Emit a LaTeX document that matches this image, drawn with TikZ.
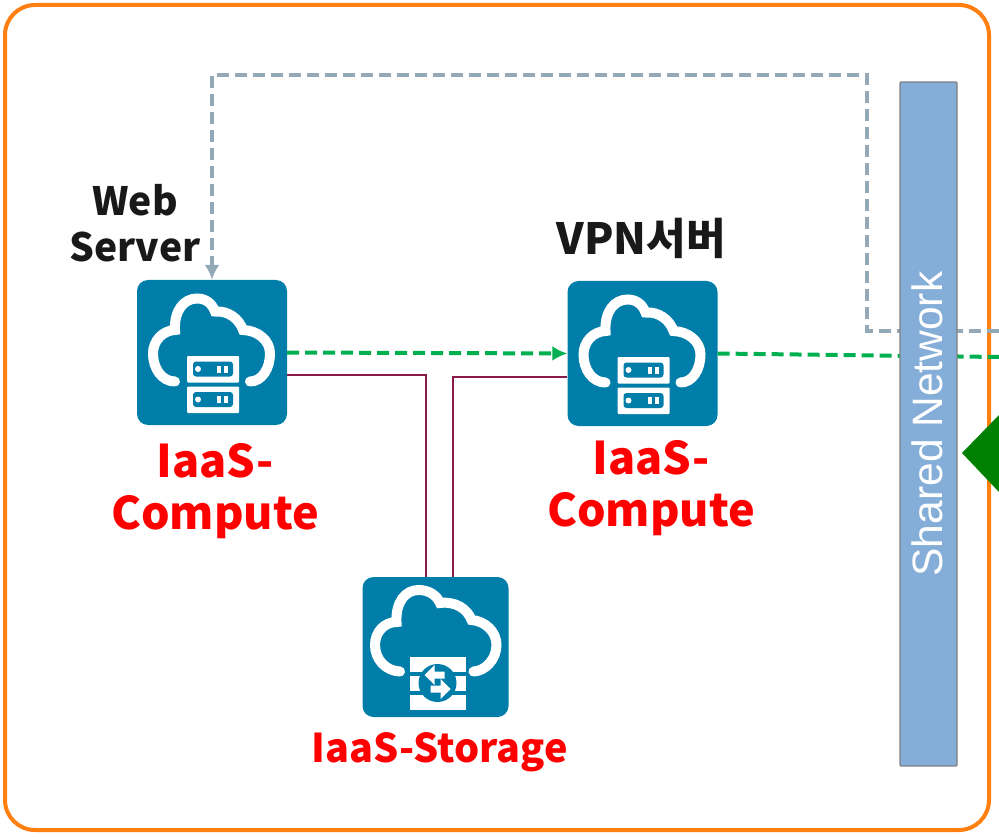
\documentclass[tikz,border=0pt]{standalone}
\usepackage{fontspec}
\setmainfont{Noto Sans CJK KR}
\newfontfamily\barfont{Liberation Sans}
\usetikzlibrary{positioning, arrows.meta}
\definecolor{tealtile}{HTML}{007DA9}
\definecolor{framecol}{HTML}{FF7F11}
\definecolor{barcol}{HTML}{84AED8}
\definecolor{greyline}{HTML}{94A9B8}
\definecolor{greenline}{HTML}{00B050}
\definecolor{linkline}{HTML}{8A1A4A}
\tikzset{
    tile/.style={rectangle, rounded corners=11pt, fill=tealtile, inner sep=0pt},
    redlabel/.style={text=red, font=\fontsize{45}{52}\selectfont\bfseries, align=center, inner sep=0pt},
    blacklabel/.style={text=black!90, font=\fontsize{39}{46}\selectfont\bfseries, align=center, inner sep=0pt},
    greendash/.style={greenline, line width=4pt, dash pattern=on 12pt off 6pt},
    greydash/.style={greyline, line width=4pt, dash pattern=on 12pt off 6pt},
    bigtip/.style={-{Latex[length=15pt, width=15pt]}},
    link/.style={linkline, line width=2pt},
    cloudline/.style={white, line width=10pt, line cap=round},
    cloudserver/.pic={
        \draw[cloudline] (-37,29) .. controls (-50,29) and (-59,16) .. (-59,1)
            .. controls (-59,-12) and (-49,-22) .. (-37,-22.5)
            .. controls (-38,-42) and (-28,-54) .. (-15,-54)
            .. controls (-6,-54) and (0,-49) .. (3,-41)
            .. controls (16,-42) and (27,-34) .. (31,-22.5)
            .. controls (46,-22) and (58,-12) .. (58,1)
            .. controls (58,16) and (50,29) .. (38,29);
        \foreach \y in {3.5,34} {
            \fill[white, rounded corners=1pt] (-25,\y) rectangle (27,\y+26.5);
            \fill[tealtile, rounded corners=3pt] (-19,\y+5.5) rectangle (21,\y+20.5);
            \fill[white] (-14,\y+13) circle (3pt);
            \fill[white] (5,\y+9.5) rectangle (9,\y+16.5);
            \fill[white] (12,\y+9.5) rectangle (16,\y+16.5);
        }
    },
    cloudwall/.pic={
        \draw[cloudline] (-35.5,24.5) .. controls (-50,24) and (-60.5,12) .. (-60.5,-2)
            .. controls (-60.5,-15) and (-51,-25) .. (-39,-25)
            .. controls (-40,-45) and (-30,-57) .. (-17,-57)
            .. controls (-7,-57) and (1,-52) .. (4.5,-44)
            .. controls (20,-46) and (32,-38) .. (36,-27)
            .. controls (50,-26) and (61,-15) .. (61,-2)
            .. controls (61,12) and (50,24) .. (38,24.5);
        \fill[white] (-26,10) rectangle (30,63);
        \fill[tealtile] (-26,25) rectangle (30,29);
        \fill[tealtile] (-26,44) rectangle (30,48);
        \fill[tealtile] (2,36) circle (19pt);
        \fill[white] (-11,28) -- (-1,18) -- (-1,24.5) -- (9,24.5) -- (9,31.5) -- (-1,31.5) -- (-1,38) -- cycle;
        \fill[white] (15,42) -- (5,32) -- (5,38.5) -- (-5,38.5) -- (-5,45.5) -- (5,45.5) -- (5,52) -- cycle;
    }
}
\begin{document}
\begin{tikzpicture}[x=1pt, y=-1pt]
        \useasboundingbox (0,0) rectangle (999,837);
        \clip (0,0) rectangle (999,837);
        \draw[framecol, line width=4pt, rounded corners=30pt] (5,5) rectangle (989,830);
        % tiles
        \node (web) at (212,352.5) [tile, minimum width=150pt, minimum height=145pt] {};
        \node (vpn) at (642.5,353.5) [tile, minimum width=150pt, minimum height=145pt] {};
        \node (storage) at (435.5,647) [tile, minimum width=146pt, minimum height=140pt] {};
        \pic at (web.center) {cloudserver};
        \pic at (vpn.center) {cloudserver};
        \pic at (storage.center) {cloudwall};
        % free ends at the picture's edge
        \coordinate (greyend) at (999,331);
        \coordinate (greenend) at (999,357);
        \draw[greydash, bigtip] (greyend) -- (867,331) -- (867,75) -- (212,75) -- (web.north);
        \draw[greendash, bigtip] (web.east) -- (vpn.west);
        \draw[greendash] (vpn.east) -- (greenend);
        \draw[link] (web.east |- 0,375) -- (426,375) -- (426,0 |- storage.north);
        \draw[link] (vpn.west |- 0,377) -- (453,377) -- (453,0 |- storage.north);
        \node (shared) at (928.5,424) [rectangle, rounded corners=1pt, draw=gray, line width=1.3pt, fill=barcol, minimum width=57pt, minimum height=684pt] {};
        \node at (927,424) [rotate=90, text=white, font=\fontsize{42.5}{50}\selectfont\barfont, inner sep=0pt] {Shared Network};
        \fill[green!50!black] (999,415) -- (962,453) -- (999,492) -- cycle;
        % labels
        \node (webtxt) at (135,223) [blacklabel] {Web\\Server};
        \node (vpntxt) at (641,238) [blacklabel, font=\fontsize{43}{50}\selectfont\bfseries] {VPN서버};
        \node (webtype) at (215,491) [redlabel] {IaaS-\\Compute};
        \node (vpntype) at (651,488) [redlabel] {IaaS-\\Compute};
        \node (storetype) at (440,752) [redlabel, font=\fontsize{39.6}{46}\selectfont\bfseries] {IaaS-Storage};
\end{tikzpicture}
\end{document}
